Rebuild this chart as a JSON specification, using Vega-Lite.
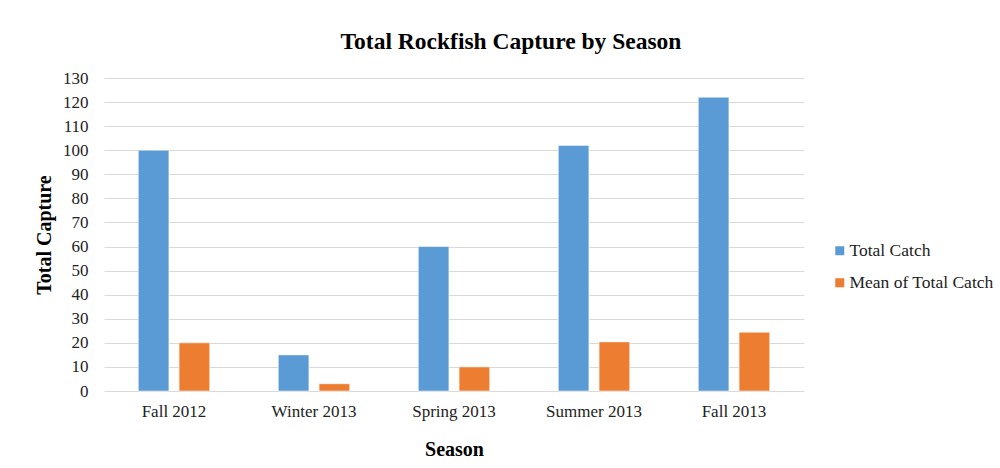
{
  "$schema": "https://vega.github.io/schema/vega-lite/v6.json",
  "autosize": "none",
  "width": 700,
  "height": 313,
  "padding": {"left": 104, "top": 78, "right": 196, "bottom": 77},
  "background": "white",
  "title": {
    "text": "Total Rockfish Capture by Season",
    "font": "Liberation Serif",
    "fontSize": 23.5,
    "fontWeight": "bold",
    "color": "#000000",
    "anchor": "middle",
    "dx": 57,
    "offset": 16
  },
  "data": {
    "values": [
      {"season": "Fall 2012", "series": "Total Catch", "value": 100},
      {"season": "Fall 2012", "series": "Mean of Total Catch", "value": 20},
      {"season": "Winter 2013", "series": "Total Catch", "value": 15},
      {"season": "Winter 2013", "series": "Mean of Total Catch", "value": 3},
      {"season": "Spring 2013", "series": "Total Catch", "value": 60},
      {"season": "Spring 2013", "series": "Mean of Total Catch", "value": 10},
      {"season": "Summer 2013", "series": "Total Catch", "value": 102},
      {"season": "Summer 2013", "series": "Mean of Total Catch", "value": 20.4},
      {"season": "Fall 2013", "series": "Total Catch", "value": 122},
      {"season": "Fall 2013", "series": "Mean of Total Catch", "value": 24.4}
    ]
  },
  "mark": {"type": "bar", "stroke": "#ffffff", "strokeWidth": 0.5},
  "encoding": {
    "x": {
      "field": "season",
      "type": "nominal",
      "sort": null,
      "scale": {"paddingInner": 0.49, "paddingOuter": 0.245},
      "axis": {
        "title": "Season",
        "titleFont": "Liberation Serif",
        "titleFontSize": 20,
        "titleFontWeight": "bold",
        "titleColor": "#000000",
        "titlePadding": 20,
        "labelFont": "Liberation Serif",
        "labelFontSize": 17,
        "labelColor": "#222222",
        "labelAngle": 0,
        "labelPadding": 12,
        "ticks": false,
        "domain": false
      }
    },
    "xOffset": {
      "field": "series",
      "type": "nominal",
      "sort": ["Total Catch", "Mean of Total Catch"],
      "scale": {"paddingInner": 0.25, "paddingOuter": 0}
    },
    "y": {
      "field": "value",
      "type": "quantitative",
      "scale": {"domain": [0, 130], "nice": false},
      "axis": {
        "title": "Total Capture",
        "titleFont": "Liberation Serif",
        "titleFontSize": 20,
        "titleFontWeight": "bold",
        "titleColor": "#000000",
        "titlePadding": 8,
        "values": [0, 10, 20, 30, 40, 50, 60, 70, 80, 90, 100, 110, 120, 130],
        "labelFont": "Liberation Serif",
        "labelFontSize": 17,
        "labelColor": "#222222",
        "labelPadding": 16,
        "ticks": false,
        "domain": false,
        "grid": true,
        "gridColor": "#d9d9d9",
        "gridWidth": 1
      }
    },
    "color": {
      "field": "series",
      "type": "nominal",
      "sort": ["Total Catch", "Mean of Total Catch"],
      "scale": {"domain": ["Total Catch", "Mean of Total Catch"], "range": ["#5B9BD5", "#ED7D31"]},
      "legend": {
        "title": null,
        "orient": "none",
        "legendX": 727,
        "legendY": 164,
        "symbolType": "square",
        "symbolSize": 81,
        "symbolStrokeWidth": 0,
        "labelFont": "Liberation Serif",
        "labelFontSize": 17.5,
        "labelColor": "#222222",
        "labelOffset": 1,
        "rowPadding": 13
      }
    }
  },
  "config": {"view": {"stroke": null}}
}
